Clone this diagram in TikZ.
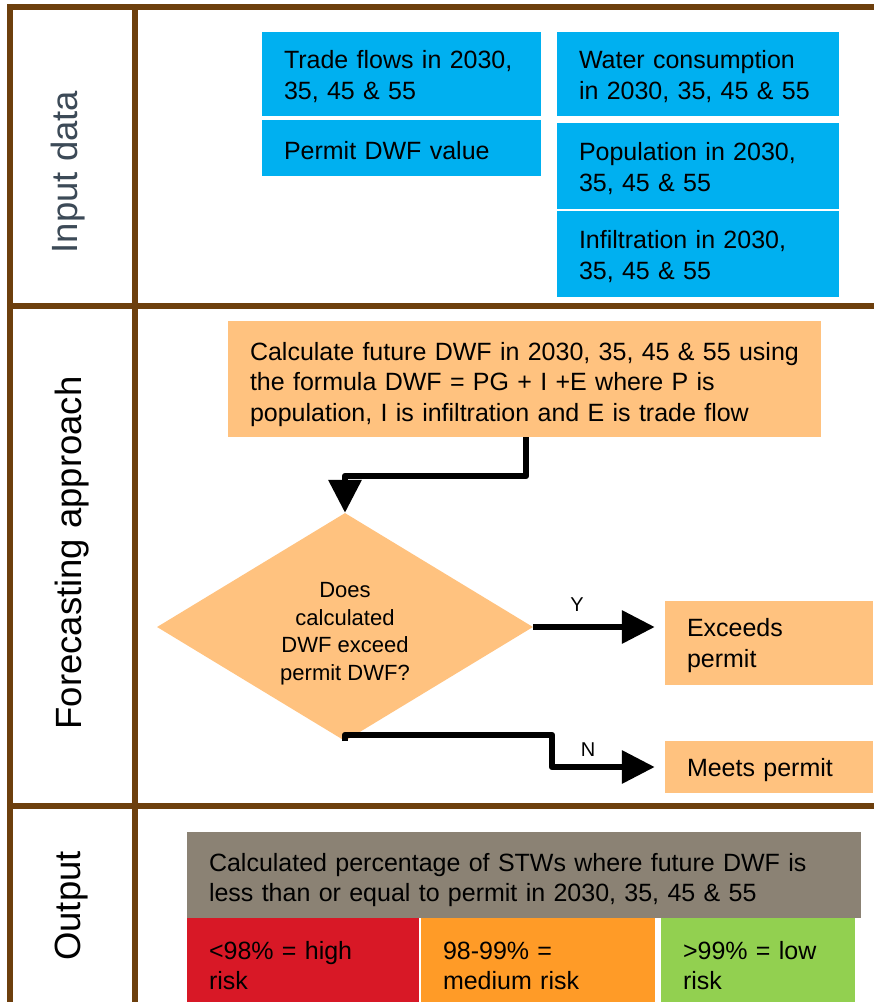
\documentclass[tikz,border=0pt]{standalone}
\usepackage{fontspec}
\setmainfont{Liberation Sans}
\usetikzlibrary{arrows.meta,shapes.geometric}
\definecolor{brownline}{HTML}{6D3F0D}
\definecolor{inblue}{HTML}{00B0F0}
\definecolor{peach}{HTML}{FFC27F}
\definecolor{outgray}{HTML}{8B8274}
\definecolor{riskred}{HTML}{D81826}
\definecolor{riskorange}{HTML}{FF9B27}
\definecolor{riskgreen}{HTML}{92D050}
\definecolor{labelslate}{HTML}{3C4A57}
\tikzset{
  sep/.style={draw=brownline, line width=5.5pt},
  box/.style={rectangle, inner xsep=22pt, inner ysep=0pt, align=left,
    font=\fontsize{25}{30.5}\selectfont, text=black,
    execute at begin node={\rule{0pt}{23.5pt}}},
  lowbox/.style={box, execute at begin node={\rule{0pt}{28.5pt}}},
  bluebox/.style={box, fill=inblue},
  peachbox/.style={box, fill=peach},
  sidelabel/.style={rotate=90, font=\fontsize{36.5}{40}\selectfont, inner sep=0pt},
  arr/.style={draw=black, line width=6.5pt, line join=round,
    -{Triangle[length=33pt,width=32pt]}},
  yn/.style={font=\fontsize{20}{24}\selectfont, inner sep=0pt},
}
\begin{document}
\begin{tikzpicture}[x=1pt,y=-1pt]
\clip (0,0) rectangle (874,1002);
\fill[white] (0,0) rectangle (874,1002);
% grid lines
\draw[sep] (7,7) -- (874,7);
\draw[sep] (10,4) -- (10,1002);
\draw[sep] (135,4) -- (135,1002);
\draw[sep] (7,306) -- (874,306);
\draw[sep] (7,806) -- (874,806);
% side labels
\node[sidelabel, text=labelslate] (lin) at (68,172) {Input data};
\node[sidelabel] (lfc) at (72,553) {Forecasting approach};
\node[sidelabel] (lout) at (72,906) {Output};
% input boxes
\node[bluebox, text width=235pt, minimum height=84pt] (trade) at (401.5,74) {Trade flows in 2030,\\35, 45 \& 55};
\node[bluebox, text width=235pt, minimum height=56pt] (permit) at (401.5,148) {Permit DWF value};
\node[bluebox, text width=238pt, minimum height=84pt] (water) at (698,74) {Water consumption\\in 2030, 35, 45 \& 55};
\node[bluebox, text width=238pt, minimum height=86pt] (pop) at (698,166) {Population in 2030,\\35, 45 \& 55};
\node[bluebox, text width=238pt, minimum height=86pt] (infil) at (698,254) {Infiltration in 2030,\\35, 45 \& 55};
% forecasting
\node[peachbox, lowbox, text width=549pt, minimum height=116pt] (calc) at (524.5,379) {Calculate future DWF in 2030, 35, 45 \& 55 using\\the formula DWF = PG + I +E where P is\\population, I is infiltration and E is trade flow};
\node[diamond, fill=peach, minimum width=376pt, minimum height=228pt, inner sep=0pt] (dec) at (345,627) {};
\node[align=center, inner sep=0pt, font=\fontsize{22}{27.5}\selectfont] (dectext) at (345,633.5) {Does\\calculated\\DWF exceed\\permit DWF?};
\node[peachbox, text width=164pt, minimum height=84pt] (exc) at (769,643) {Exceeds\\permit};
\node[peachbox, text width=164pt, minimum height=52pt] (meets) at (769,767) {Meets permit};
% connectors
\draw[arr] (526,0 |- calc.south) |- (dec.north |- 0,476) -- (dec.north);
\draw[arr, shorten >=10pt] (dec.east) -- (exc.west |- dec.east);
\draw[arr, shorten >=10pt] (dec.south) |- (552,735) |- (meets.west);
\node[yn] (ylab) at (577,605) {Y};
\node[yn] (nlab) at (588,750) {N};
% output
\node[lowbox, fill=outgray, text width=630pt, minimum height=86pt] (res) at (524,875) {Calculated percentage of STWs where future DWF is\\less than or equal to permit in 2030, 35, 45 \& 55};
\node[box, fill=riskred, text width=188pt, minimum height=90pt] (high) at (303,963) {<98\% = high\\risk};
\node[box, fill=riskorange, text width=190pt, minimum height=90pt] (med) at (538,963) {98-99\% =\\medium risk};
\node[box, fill=riskgreen, text width=150pt, minimum height=90pt] (low) at (758,963) {>99\% = low\\risk};
\end{tikzpicture}
\end{document}
